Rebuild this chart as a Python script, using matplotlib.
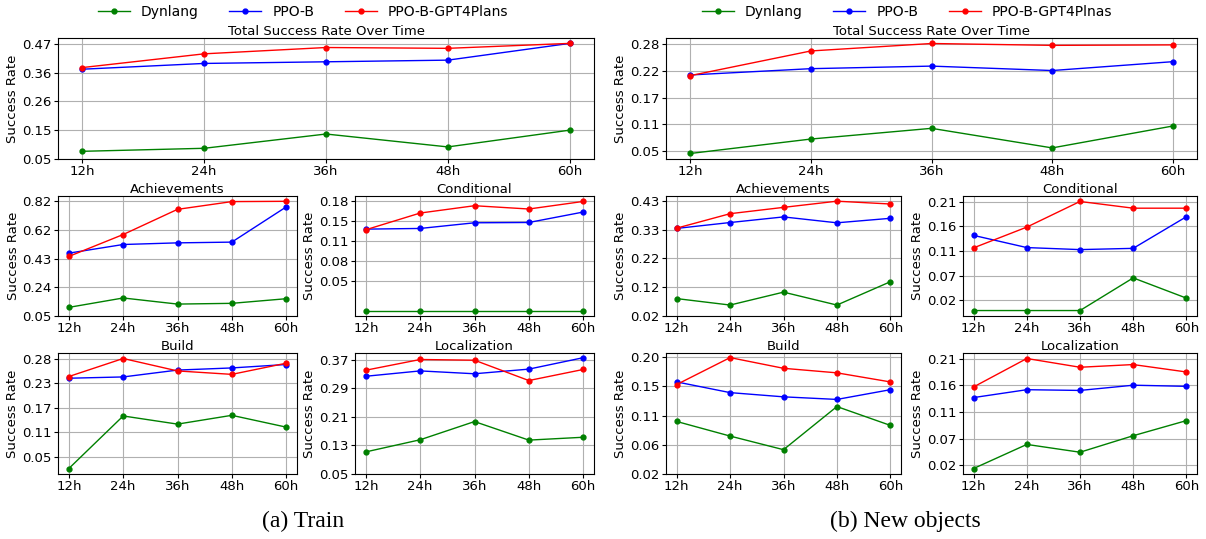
import numpy as np
import matplotlib
matplotlib.use("Agg")
import matplotlib.pyplot as plt

hours = ["12h", "24h", "36h", "48h", "60h"]

# (a) Train
train_total_dyn = [0.078, 0.089, 0.141, 0.094, 0.155]
train_total_ppo = [0.377, 0.398, 0.404, 0.410, 0.471]
train_total_gpt = [0.383, 0.433, 0.456, 0.453, 0.471]
train_ach_dyn = [0.108, 0.171, 0.130, 0.135, 0.166]
train_ach_ppo = [0.472, 0.530, 0.541, 0.546, 0.782]
train_ach_gpt = [0.450, 0.597, 0.766, 0.818, 0.820]
train_cond_dyn = [0.001, 0.001, 0.001, 0.001, 0.001]
train_cond_ppo = [0.1346, 0.1357, 0.145, 0.1455, 0.1626]
train_cond_gpt = [0.1336, 0.161, 0.173, 0.1676, 0.180]
train_build_dyn = [0.0235, 0.146, 0.127, 0.1475, 0.120]
train_build_ppo = [0.234, 0.237, 0.253, 0.258, 0.266]
train_build_gpt = [0.238, 0.280, 0.251, 0.243, 0.269]
train_loc_dyn = [0.112, 0.146, 0.197, 0.145, 0.153]
train_loc_ppo = [0.324, 0.339, 0.331, 0.344, 0.376]
train_loc_gpt = [0.341, 0.371, 0.369, 0.312, 0.343]

# (b) New objects
new_total_dyn = [0.045, 0.076, 0.099, 0.057, 0.104]
new_total_ppo = [0.2135, 0.227, 0.2325, 0.223, 0.242]
new_total_gpt = [0.212, 0.265, 0.281, 0.277, 0.278]
new_ach_dyn = [0.082, 0.059, 0.105, 0.059, 0.142]
new_ach_ppo = [0.332, 0.353, 0.373, 0.352, 0.368]
new_ach_gpt = [0.333, 0.3845, 0.407, 0.429, 0.419]
new_cond_dyn = [0.0, 0.0, 0.0, 0.063, 0.024]
new_cond_ppo = [0.145, 0.1215, 0.1176, 0.120, 0.181]
new_cond_gpt = [0.121, 0.161, 0.2105, 0.1975, 0.1975]
new_build_dyn = [0.101, 0.0785, 0.0575, 0.124, 0.095]
new_build_ppo = [0.162, 0.1455, 0.139, 0.135, 0.150]
new_build_gpt = [0.158, 0.1995, 0.183, 0.176, 0.162]
new_loc_dyn = [0.0146, 0.0575, 0.0436, 0.073, 0.0999]
new_loc_ppo = [0.141, 0.155, 0.1537, 0.163, 0.161]
new_loc_gpt = [0.160, 0.2106, 0.195, 0.1998, 0.1866]

# y tick labels as printed
train_total_ticks = ["0.05", "0.15", "0.26", "0.36", "0.47"]
train_ach_ticks = ["0.05", "0.24", "0.43", "0.62", "0.82"]
train_cond_ticks = ["0.05", "0.08", "0.11", "0.15", "0.18"]
train_build_ticks = ["0.05", "0.11", "0.17", "0.23", "0.28"]
train_loc_ticks = ["0.05", "0.13", "0.21", "0.29", "0.37"]
new_total_ticks = ["0.05", "0.11", "0.17", "0.22", "0.28"]
new_ach_ticks = ["0.02", "0.12", "0.22", "0.33", "0.43"]
new_cond_ticks = ["0.02", "0.07", "0.11", "0.16", "0.21"]
new_build_ticks = ["0.02", "0.06", "0.11", "0.15", "0.20"]
new_loc_ticks = ["0.02", "0.07", "0.11", "0.16", "0.21"]

W, H = 1206, 539
fig = plt.figure(figsize=(W / 100, H / 100), dpi=100)
FS = 9.5


def px_axes(x0, y0, x1, y1):
    return fig.add_axes([x0 / W, 1 - y1 / H, (x1 - x0) / W, (y1 - y0) / H])


def panel(ax, title, dyn, ppo, gpt, labels, gpt_name):
    x = np.arange(len(hours))
    ax.plot(x, dyn, color="green", marker="o", markersize=3.5, linewidth=1, label="Dynlang")
    ax.plot(x, ppo, color="blue", marker="o", markersize=3.5, linewidth=1, label="PPO-B")
    ax.plot(x, gpt, color="red", marker="o", markersize=3.5, linewidth=1, label=gpt_name)
    ax.set_xticks(x)
    ax.set_xticklabels(hours)
    ax.set_yticks(np.linspace(float(labels[0]), float(labels[-1]), 5))
    ax.set_yticklabels(labels)
    ax.set_title(title, fontsize=FS, pad=2)
    ax.set_ylabel("Success Rate", fontsize=FS, labelpad=2)
    ax.tick_params(labelsize=FS, pad=1.5, length=3)
    ax.grid(True, color="#b0b0b0", linewidth=0.8)


halves = [
    ("PPO-B-GPT4Plans", "(a) Train", 303, 303,
     [(58, 38, 594, 159), (58, 196, 297, 316), (355, 196, 594, 316),
      (58, 353, 297, 474), (355, 353, 594, 474)],
     [("Total Success Rate Over Time", train_total_dyn, train_total_ppo, train_total_gpt, train_total_ticks),
      ("Achievements", train_ach_dyn, train_ach_ppo, train_ach_gpt, train_ach_ticks),
      ("Conditional", train_cond_dyn, train_cond_ppo, train_cond_gpt, train_cond_ticks),
      ("Build", train_build_dyn, train_build_ppo, train_build_gpt, train_build_ticks),
      ("Localization", train_loc_dyn, train_loc_ppo, train_loc_gpt, train_loc_ticks)]),
    ("PPO-B-GPT4Plnas", "(b) New objects", 907, 905,
     [(666, 38, 1197, 159), (666, 196, 901, 316), (963, 196, 1197, 316),
      (666, 353, 901, 474), (963, 353, 1197, 474)],
     [("Total Success Rate Over Time", new_total_dyn, new_total_ppo, new_total_gpt, new_total_ticks),
      ("Achievements", new_ach_dyn, new_ach_ppo, new_ach_gpt, new_ach_ticks),
      ("Conditional", new_cond_dyn, new_cond_ppo, new_cond_gpt, new_cond_ticks),
      ("Build", new_build_dyn, new_build_ppo, new_build_gpt, new_build_ticks),
      ("Localization", new_loc_dyn, new_loc_ppo, new_loc_gpt, new_loc_ticks)]),
]

for gname, caption, leg_x, cap_x, boxes, panels in halves:
    for i, (title, d, p, g, lab) in enumerate(panels):
        ax = px_axes(*boxes[i])
        panel(ax, title, d, p, g, lab, gname)
        if i == 0:
            handles, labs = ax.get_legend_handles_labels()
    fig.legend(handles, labs, loc="center", bbox_to_anchor=(leg_x / W, 1 - 12 / H), ncol=3,
               frameon=False, fontsize=10, handlelength=2.3, columnspacing=2.2,
               borderaxespad=0)
    fig.text(cap_x / W, 1 - 521 / H, caption,
             family="Liberation Serif", fontsize=17, ha="center", va="center")

plt.savefig("out.png", dpi=100)
